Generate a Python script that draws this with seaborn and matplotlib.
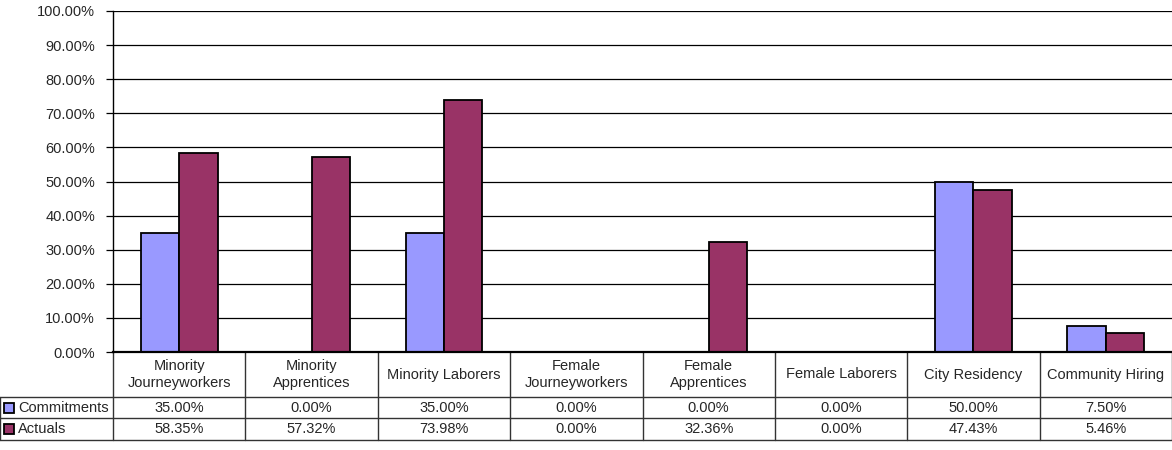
import pandas as pd
import seaborn as sns
import matplotlib.pyplot as plt
from matplotlib.transforms import blended_transform_factory
from matplotlib.patches import Rectangle

categories = [
    "Minority\nJourneyworkers",
    "Minority\nApprentices",
    "Minority Laborers",
    "Female\nJourneyworkers",
    "Female\nApprentices",
    "Female Laborers",
    "City Residency",
    "Community Hiring",
]
commitments = [35.00, 0.00, 35.00, 0.00, 0.00, 0.00, 50.00, 7.50]
actuals = [58.35, 57.32, 73.98, 0.00, 32.36, 0.00, 47.43, 5.46]
series_names = ["Commitments", "Actuals"]
colors = ["#9999FF", "#993366"]
yticks = [0, 10, 20, 30, 40, 50, 60, 70, 80, 90, 100]

df = pd.DataFrame({
    "category": categories * 2,
    "value": commitments + actuals,
    "series": [series_names[0]] * len(categories) + [series_names[1]] * len(categories),
})

sns.set_style("white")
plt.rcParams["font.family"] = ["Liberation Sans", "DejaVu Sans"]

fig = plt.figure(figsize=(11.72, 4.5), dpi=100)
ax = fig.add_axes([113 / 1172, 98 / 450, 1 - 113 / 1172, 341 / 450])

sns.barplot(data=df, x="category", y="value", hue="series", palette=colors,
            width=0.58, gap=0, edgecolor="black", linewidth=1.3,
            saturation=1, legend=False, ax=ax, zorder=3)

# zero-height bars leave no outline in the original
for bar in ax.patches:
    if bar.get_height() == 0:
        bar.set_linewidth(0)

ax.set_ylim(0, 100)
ax.set_xlim(-0.5, len(categories) - 0.5)
ax.set_yticks(yticks)
ax.set_yticklabels([f"{v:.2f}%" for v in yticks], fontsize=10.5)
ax.yaxis.grid(True, color="black", linewidth=0.9, zorder=0)
ax.set_axisbelow(True)
ax.tick_params(axis="y", length=5, width=0.9, color="black", direction="out", left=True, pad=8)
ax.set_xticks([])
ax.set_xlabel("")
ax.set_ylabel("")
for side in ["top", "right"]:
    ax.spines[side].set_visible(False)
ax.spines["left"].set_color("black")
ax.spines["bottom"].set_color("black")
ax.spines["left"].set_linewidth(1.0)
ax.spines["bottom"].set_linewidth(1.6)
ax.spines["bottom"].set_zorder(4)

# data table below the plot
trans = blended_transform_factory(ax.transData, ax.transAxes)
px = 341.0
y_cat_bot = -45 / px
y_com_bot = -66 / px
y_act_bot = -88 / px
x_left = -0.5 - 113 / (1059 / 8)
x_right = len(categories) - 0.5
lc = "#333333"
lw = 1.0

for y in [y_cat_bot, y_com_bot, y_act_bot]:
    ax.plot([x_left, x_right], [y, y], transform=trans, color=lc, lw=lw, clip_on=False)
for i in range(len(categories) + 1):
    x = i - 0.5
    ax.plot([x, x], [0, y_act_bot], transform=trans, color=lc, lw=lw, clip_on=False)
ax.plot([x_left, x_left], [y_cat_bot, y_act_bot], transform=trans, color=lc, lw=lw, clip_on=False)

for i, name in enumerate(categories):
    ax.text(i, y_cat_bot / 2, name, transform=trans, ha="center", va="center",
            fontsize=10.5, linespacing=1.35)
    ax.text(i, (y_cat_bot + y_com_bot) / 2, f"{commitments[i]:.2f}%", transform=trans,
            ha="center", va="center", fontsize=10.5)
    ax.text(i, (y_com_bot + y_act_bot) / 2, f"{actuals[i]:.2f}%", transform=trans,
            ha="center", va="center", fontsize=10.5)

# legend keys in the row headers
for name, color, ytop, ybot in [(series_names[0], colors[0], y_cat_bot, y_com_bot),
                                (series_names[1], colors[1], y_com_bot, y_act_bot)]:
    ymid_px = 352 + (-(ytop + ybot) / 2) * px
    fig.patches.append(Rectangle((4 / 1172, (450 - ymid_px - 5) / 450), 10 / 1172, 10 / 450,
                                 transform=fig.transFigure, facecolor=color,
                                 edgecolor="black", linewidth=1.3))
    fig.text(18 / 1172, (450 - ymid_px) / 450, name, ha="left", va="center", fontsize=10.5)

fig.savefig("out.png", dpi=100)
